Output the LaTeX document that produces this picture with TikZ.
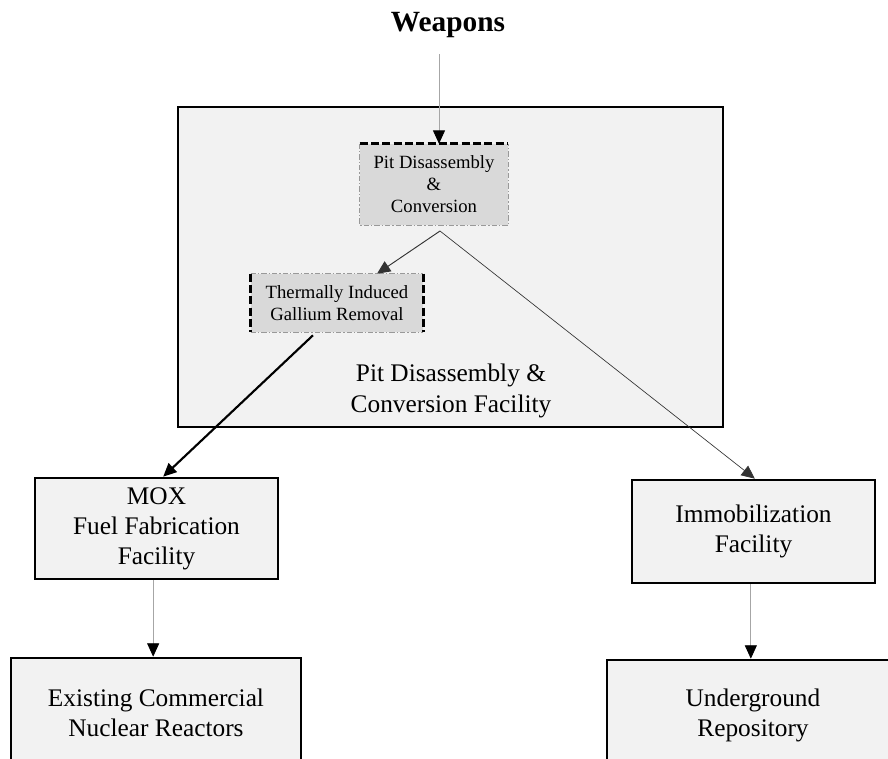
\documentclass[tikz,border=0pt]{standalone}
\usepackage{fontspec}
\setmainfont{Liberation Serif}
\usetikzlibrary{arrows.meta,positioning,calc}

\begin{document}
\begin{tikzpicture}[x=0.75pt,y=-0.75pt,
    facility/.style={draw,line width=2pt,fill=black!5,align=center,inner sep=0pt,
        font=\fontsize{19}{22.5}\selectfont},
    process/.style={fill=black!15,align=center,inner sep=0pt,
        font=\fontsize{14}{16.5}\selectfont},
    heavyedge/.style={line width=2pt,dash pattern=on 6pt off 2.5pt},
    lightedge/.style={draw=black!40,line width=0.5pt,
        dash pattern=on 4pt off 1.5pt on 1pt off 1.5pt},
    feed/.style={-{Triangle[width=9pt,length=10pt,color=black]},draw=black!35,line width=0.6pt},
    route/.style={-{Triangle[width=9pt,length=10pt]},line width=0.7pt}]
    \useasboundingbox (0,0) rectangle (888,758);
    \clip (0,0) rectangle (888,758);

    % Source
    \node (weapons) at (448,25) {\fontsize{22}{26}\selectfont\bfseries Weapons};

    % Pit facility with its inner steps
    \node[facility,minimum width=408.75pt,minimum height=240pt] (plant) at (450.5,267) {};
    \node[align=center,font=\fontsize{19}{23}\selectfont] (plantlabel) at (451,391)
        {Pit Disassembly \&\\Conversion Facility};

    \node[process,minimum width=111pt,minimum height=60.75pt] (pit) at (434,184.5)
        {Pit Disassembly\\\&\\Conversion};
    \draw[lightedge] (pit.north west) -- (pit.south west) -- (pit.south east) -- (pit.north east);
    \draw[heavyedge] (pit.north west) -- (pit.north east);

    \node[process,minimum width=129pt,minimum height=43.5pt] (gallium) at (337,303)
        {Thermally Induced\\Gallium Removal};
    \draw[lightedge] (gallium.north west) -- (gallium.north east);
    \draw[lightedge] (gallium.south west) -- (gallium.south east);
    \draw[heavyedge] (gallium.north west) -- (gallium.south west);
    \draw[heavyedge] (gallium.north east) -- (gallium.south east);

    % Downstream facilities
    \node[facility,minimum width=182.25pt,minimum height=75.75pt] (mox) at (156.5,528.5)
        {MOX\\Fuel Fabrication\\Facility};
    \node[facility,minimum width=182.25pt,minimum height=77.25pt] (immob) at (753.5,531.5)
        {Immobilization\\Facility};
    \node[facility,minimum width=217.5pt,minimum height=82.5pt] (reactors) at (156,713)
        {Existing Commercial\\Nuclear Reactors};
    \node[facility,minimum width=219pt,minimum height=82.5pt] (repo) at (753,715)
        {Underground\\Repository};

    % Flows
    \coordinate (split) at (440,231);
    \draw[feed] ([xshift=-6.75pt,yshift=-9pt]weapons.south) -- ([xshift=3.75pt]pit.north);
    \draw[route,draw=black!80] (split) -- ([xshift=30pt]gallium.north);
    \draw[route,draw=black!80,line width=0.5pt] (split) -- ([xshift=1pt]immob.north);
    \draw[route,line width=1.6pt] ($(gallium.south)+(-24,3)$) -- ([xshift=5pt]mox.north);
    \draw[feed] ([xshift=-2.5pt]mox.south) -- ([xshift=-2.5pt]mox.south |- reactors.north);
    \draw[feed] ([xshift=-2pt]immob.south) -- ([xshift=-2pt]immob.south |- repo.north);
\end{tikzpicture}
\end{document}
